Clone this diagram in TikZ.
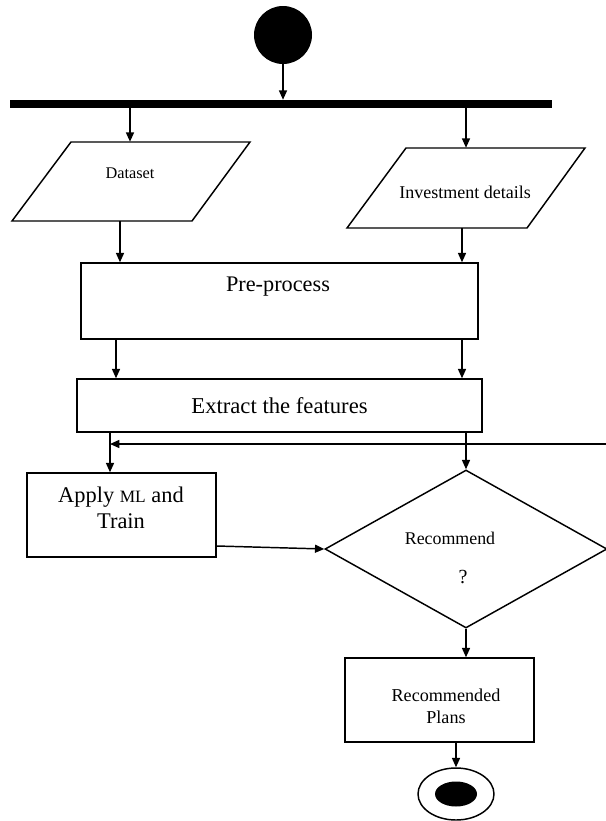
\documentclass[tikz,border=0pt]{standalone}
\usepackage{fontspec}
\setmainfont{Liberation Serif}
\usetikzlibrary{arrows.meta,fit,calc,shapes.geometric}

\newcommand{\fs}[1]{\fontsize{#1}{1.2\dimexpr#1pt\relax}\selectfont}

\begin{document}
\begin{tikzpicture}[x=0.75pt,y=-0.75pt,
  line/.style={draw=black, line width=1.1pt},
  arr/.style={line, -{Triangle[length=7pt,width=6pt]}},
  box/.style={line, rectangle, inner sep=0pt},
  hole/.style={inner sep=0pt, draw=none},
  txt/.style={inner sep=0pt, align=center, text=black}
]
\useasboundingbox (0,0) rectangle (606,821);

% start state and fork bar
\node[circle, fill=black, inner sep=0pt, minimum size=43.5pt] (start) at (283,35) {};
\node[fill=black, inner sep=0pt, minimum width=406.5pt, minimum height=6pt] (bar) at (281,104) {};

% input parallelograms
\draw[line] (71,142) -- (250,142) -- (192,221) -- (12,221) -- cycle;
\node[hole, fit={(12,142) (250,221)}] (ds) {};
\node[txt, font=\fs{12.2}] (dsT) at (130,173) {Dataset};

\draw[line] (406,148) -- (585,148) -- (527,228) -- (347,228) -- cycle;
\node[hole, fit={(347,148) (585,228)}] (inv) {};
\node[txt, font=\fs{13.5}] (invT) at (465,192) {Investment details};

% processing boxes
\node[box, minimum width=297.75pt, minimum height=57pt] (pre) at (279.5,301) {};
\node[txt, font=\fs{16.7}] (preT) at (278,287) {Pre-process};

\node[box, minimum width=303.75pt, minimum height=39.75pt, font=\fs{17}] (ext) at (279.5,405.5) {Extract the features};

\node[box, minimum width=141.75pt, minimum height=63pt] (apply) at (121.5,515) {};
\node[txt, font=\fs{16.8}, anchor=base] (applyT) at (121,502) {Apply {\fs{13}ML} and};
\node[txt, font=\fs{16.8}, anchor=base] (applyT2) at (121,528) {Train};

% decision
\node[line, diamond, inner sep=0pt, minimum width=211.5pt, minimum height=118.5pt] (dia) at (466,549) {};
\node[txt, font=\fs{13.4}] (diaT) at (450,538) {Recommend};
\node[txt, font=\fs{15}] (diaQ) at (463,577) {?};

% result and end state
\node[box, minimum width=141.75pt, minimum height=63pt] (rec) at (439.5,700) {};
\node[txt, font=\fs{13.6}] (recT) at (446,706) {Recommended\\Plans};

\node[line, ellipse, inner sep=0pt, minimum width=57pt, minimum height=39pt] (end) at (456,794) {};
\node[ellipse, fill=black, inner sep=0pt, minimum width=31.5pt, minimum height=18.75pt] (endIn) at (end) {};

% helper points
\coordinate (jl) at (110,444);
\coordinate (fbR) at (606,444);

% connectors
\draw[arr] (start.south) -- (start.south |- bar.north);
\draw[arr] (bar.south -| 130,0) -- (ds.north -| 130,0);
\draw[arr] (bar.south -| inv) -- (inv.north);
\draw[arr] (ds.south -| 120,0) -- (pre.north -| 120,0);
\draw[arr] (inv.south -| 462,0) -- (pre.north -| 462,0);
\draw[arr] (pre.south -| 116,0) -- (ext.north -| 116,0);
\draw[arr] (pre.south -| 462,0) -- (ext.north -| 462,0);
\draw[arr] (ext.south -| jl) -- (apply.north -| jl);
\draw[arr] (ext.south -| dia) -- (dia.north);
\draw[arr] (fbR) -- (jl);
\draw[arr] ([yshift=-23.25pt]apply.east) -- (dia.west);
\draw[arr] (dia.south) -- (dia.south |- rec.north);
\draw[arr] (rec.south -| end) -- (end.north);
\end{tikzpicture}
\end{document}
